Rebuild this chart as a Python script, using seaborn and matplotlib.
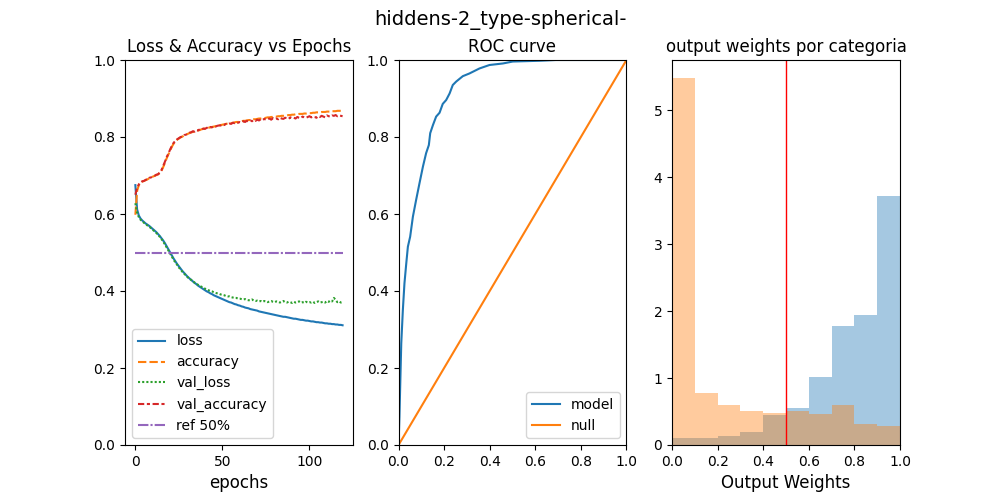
import matplotlib
matplotlib.use("Agg")
import matplotlib.pyplot as plt
import seaborn as sns
import pandas as pd

# training history, one value per epoch (0..119)
loss = [
    0.675, 0.612, 0.596, 0.588, 0.583, 0.579, 0.575, 0.572, 0.569, 0.565,
    0.561, 0.557, 0.553, 0.548, 0.543, 0.537, 0.531, 0.524, 0.516, 0.508,
    0.500, 0.492, 0.484, 0.477, 0.470, 0.464, 0.458, 0.452, 0.447, 0.442,
    0.437, 0.433, 0.429, 0.425, 0.421, 0.418, 0.414, 0.411, 0.408, 0.405,
    0.402, 0.399, 0.397, 0.394, 0.392, 0.389, 0.387, 0.385, 0.383, 0.381,
    0.379, 0.377, 0.375, 0.373, 0.371, 0.370, 0.368, 0.366, 0.365, 0.363,
    0.362, 0.360, 0.359, 0.357, 0.356, 0.355, 0.353, 0.352, 0.351, 0.350,
    0.349, 0.347, 0.346, 0.345, 0.344, 0.343, 0.342, 0.341, 0.340, 0.339,
    0.338, 0.337, 0.336, 0.335, 0.334, 0.333, 0.333, 0.332, 0.331, 0.330,
    0.329, 0.328, 0.328, 0.327, 0.326, 0.325, 0.325, 0.324, 0.323, 0.323,
    0.322, 0.321, 0.321, 0.320, 0.319, 0.319, 0.318, 0.318, 0.317, 0.316,
    0.316, 0.315, 0.315, 0.314, 0.314, 0.313, 0.313, 0.312, 0.312, 0.311,
]
accuracy = [
    0.598, 0.660, 0.675, 0.681, 0.684, 0.686, 0.688, 0.690, 0.693, 0.695,
    0.697, 0.699, 0.701, 0.703, 0.706, 0.712, 0.722, 0.733, 0.745, 0.755,
    0.765, 0.775, 0.783, 0.789, 0.793, 0.796, 0.799, 0.801, 0.804, 0.806,
    0.808, 0.810, 0.812, 0.813, 0.814, 0.816, 0.817, 0.818, 0.820, 0.821,
    0.822, 0.823, 0.824, 0.825, 0.826, 0.827, 0.828, 0.829, 0.830, 0.831,
    0.832, 0.833, 0.834, 0.835, 0.835, 0.836, 0.837, 0.838, 0.839, 0.839,
    0.840, 0.841, 0.842, 0.842, 0.843, 0.844, 0.844, 0.845, 0.846, 0.846,
    0.847, 0.848, 0.848, 0.849, 0.849, 0.850, 0.851, 0.851, 0.852, 0.852,
    0.853, 0.853, 0.854, 0.854, 0.855, 0.855, 0.856, 0.856, 0.857, 0.857,
    0.858, 0.858, 0.859, 0.859, 0.860, 0.860, 0.860, 0.861, 0.861, 0.862,
    0.862, 0.862, 0.863, 0.863, 0.864, 0.864, 0.864, 0.865, 0.865, 0.865,
    0.866, 0.866, 0.866, 0.867, 0.867, 0.867, 0.868, 0.868, 0.868, 0.869,
]
val_loss = [
    0.628, 0.603, 0.592, 0.585, 0.581, 0.577, 0.574, 0.570, 0.567, 0.563,
    0.559, 0.555, 0.551, 0.546, 0.541, 0.535, 0.528, 0.521, 0.513, 0.505,
    0.497, 0.489, 0.481, 0.474, 0.468, 0.461, 0.456, 0.450, 0.445, 0.441,
    0.436, 0.432, 0.429, 0.425, 0.422, 0.419, 0.416, 0.413, 0.411, 0.409,
    0.406, 0.404, 0.402, 0.400, 0.399, 0.397, 0.395, 0.394, 0.393, 0.391,
    0.390, 0.389, 0.387, 0.386, 0.386, 0.384, 0.383, 0.382, 0.382, 0.380,
    0.380, 0.379, 0.378, 0.379, 0.377, 0.376, 0.376, 0.378, 0.375, 0.374,
    0.375, 0.373, 0.374, 0.372, 0.374, 0.373, 0.371, 0.373, 0.374, 0.372,
    0.371, 0.373, 0.372, 0.370, 0.372, 0.374, 0.371, 0.370, 0.372, 0.371,
    0.369, 0.372, 0.370, 0.371, 0.373, 0.370, 0.371, 0.369, 0.372, 0.370,
    0.371, 0.370, 0.372, 0.369, 0.371, 0.373, 0.370, 0.371, 0.372, 0.370,
    0.374, 0.372, 0.375, 0.373, 0.382, 0.377, 0.371, 0.373, 0.370, 0.371,
]
val_accuracy = [
    0.650, 0.668, 0.677, 0.682, 0.685, 0.686, 0.689, 0.690, 0.694, 0.695,
    0.698, 0.699, 0.702, 0.703, 0.708, 0.714, 0.725, 0.736, 0.748, 0.757,
    0.768, 0.777, 0.785, 0.790, 0.794, 0.797, 0.800, 0.801, 0.805, 0.806,
    0.808, 0.811, 0.812, 0.815, 0.814, 0.818, 0.817, 0.820, 0.819, 0.822,
    0.821, 0.824, 0.823, 0.826, 0.825, 0.828, 0.827, 0.829, 0.830, 0.830,
    0.832, 0.831, 0.834, 0.833, 0.835, 0.834, 0.837, 0.836, 0.838, 0.837,
    0.839, 0.838, 0.841, 0.839, 0.842, 0.840, 0.843, 0.841, 0.844, 0.842,
    0.845, 0.843, 0.846, 0.844, 0.847, 0.845, 0.846, 0.848, 0.845, 0.849,
    0.847, 0.848, 0.846, 0.850, 0.848, 0.847, 0.850, 0.849, 0.847, 0.851,
    0.849, 0.850, 0.848, 0.852, 0.850, 0.849, 0.853, 0.851, 0.850, 0.852,
    0.854, 0.851, 0.853, 0.852, 0.850, 0.854, 0.852, 0.855, 0.853, 0.851,
    0.856, 0.854, 0.853, 0.856, 0.855, 0.857, 0.854, 0.856, 0.855, 0.854,
]
ref_level = 0.5

# ROC curve
fpr = [0.0, 0.004, 0.012, 0.019, 0.026, 0.034, 0.041, 0.051, 0.063, 0.077,
       0.092, 0.107, 0.121, 0.133, 0.139, 0.151, 0.165, 0.180, 0.194, 0.209,
       0.224, 0.238, 0.253, 0.282, 0.311, 0.355, 0.399, 0.458, 0.501, 0.618,
       0.690, 1.0]
tpr = [0.0, 0.074, 0.264, 0.351, 0.420, 0.472, 0.515, 0.541, 0.593, 0.636,
       0.680, 0.723, 0.758, 0.779, 0.810, 0.831, 0.853, 0.863, 0.886, 0.896,
       0.913, 0.935, 0.944, 0.958, 0.965, 0.978, 0.987, 0.991, 0.996, 0.998,
       1.0, 1.0]
null_x = [0.0, 1.0]
null_y = [0.0, 1.0]

# output weight histograms (density per bin)
bin_edges = [0.0, 0.1, 0.2, 0.3, 0.4, 0.5, 0.6, 0.7, 0.8, 0.9, 1.0]
bin_centers = [0.05, 0.15, 0.25, 0.35, 0.45, 0.55, 0.65, 0.75, 0.85, 0.95]
dens_pos = [0.10, 0.10, 0.13, 0.20, 0.45, 0.55, 1.02, 1.78, 1.94, 3.72]
dens_neg = [5.48, 0.78, 0.60, 0.51, 0.48, 0.51, 0.46, 0.60, 0.31, 0.28]
threshold = 0.5

history = pd.DataFrame({
    'loss': loss,
    'accuracy': accuracy,
    'val_loss': val_loss,
    'val_accuracy': val_accuracy,
    'ref 50%': ref_level,
})

fig, (ax1, ax2, ax3) = plt.subplots(1, 3, figsize=(10, 5), dpi=100)
fig.suptitle('hiddens-2_type-spherical-', fontsize=14)

sns.lineplot(data=history, ax=ax1)
ax1.set_ylim(0, 1)
ax1.set_xlabel('epochs', fontsize=12)
ax1.set_title('Loss & Accuracy vs Epochs')
ax1.legend(loc='lower left')

sns.lineplot(x=fpr, y=tpr, estimator=None, label='model', ax=ax2)
sns.lineplot(x=null_x, y=null_y, estimator=None, label='null', ax=ax2)
ax2.set_xlim(0, 1)
ax2.set_ylim(0, 1)
ax2.set_title('ROC curve')
ax2.legend(loc='lower right')

sns.histplot(x=bin_centers, weights=dens_pos, bins=bin_edges, stat='count',
             color='C0', alpha=0.4, linewidth=0, ax=ax3)
sns.histplot(x=bin_centers, weights=dens_neg, bins=bin_edges, stat='count',
             color='C1', alpha=0.4, linewidth=0, ax=ax3)
ax3.axvline(threshold, color='red', lw=1)
ax3.set_xlim(0, 1)
ax3.set_ylabel('')
ax3.set_xlabel('Output Weights', fontsize=12)
ax3.set_title('output weights por categoria')

plt.savefig('out.png')
